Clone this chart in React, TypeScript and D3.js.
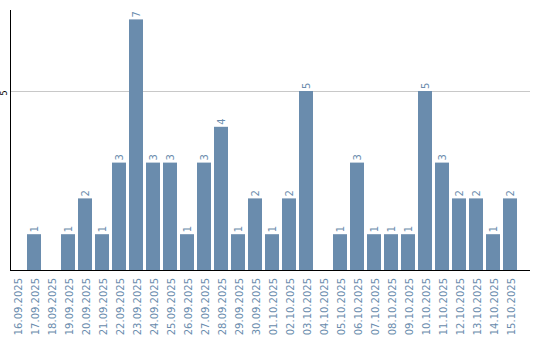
import React from "react";
import * as d3 from "d3";

const categories = [
  "16.09.2025","17.09.2025","18.09.2025","19.09.2025","20.09.2025","21.09.2025","22.09.2025","23.09.2025","24.09.2025","25.09.2025",
  "26.09.2025","27.09.2025","28.09.2025","29.09.2025","30.09.2025","01.10.2025","02.10.2025","03.10.2025","04.10.2025","05.10.2025",
  "06.10.2025","07.10.2025","08.10.2025","09.10.2025","10.10.2025","11.10.2025","12.10.2025","13.10.2025","14.10.2025","15.10.2025",
];
const values = [0,1,0,1,2,1,3,7,3,3,1,3,4,1,2,1,2,5,0,1,3,1,1,1,5,3,2,2,1,2];
const yTicks = [5];

const W = 540, H = 340;
const left = 10, right = 530, bandEnd = 517, top = 10, bottom = 270;
const color = "#6a8cad";
const font = "DejaVu Sans, sans-serif";

export default function App() {
  const x = d3.scaleBand<string>().domain(categories).range([left, bandEnd]).paddingInner(3 / 17).paddingOuter(0);
  const y = d3.scaleLinear().domain([0, 260 / 35.8]).range([bottom, top]);
  return (
    <svg width={W} height={H} style={{ position: "absolute", left: 0, top: 0 }} fontFamily={font}>
      {yTicks.map((t) => (
        <g key={t}>
          <line x1={left} x2={right} y1={Math.round(y(t)) + 0.5} y2={Math.round(y(t)) + 0.5} stroke="#c8c8c8" strokeWidth={1} />
          <text transform={`translate(7,${y(t) + 2}) rotate(-90)`} textAnchor="middle" fontSize={8} fill="#000">{t}</text>
        </g>
      ))}
      {categories.map((c, i) => {
        const v = values[i];
        const bx = x(c)!;
        const cx = bx + x.bandwidth() / 2;
        return (
          <g key={c}>
            {v > 0 && (
              <rect x={bx} y={y(v)} width={x.bandwidth()} height={bottom - y(v)} fill={color} />
            )}
            {v > 0 && (
              <text transform={`translate(${cx},${y(v) - 2}) rotate(-90)`} dy="0.35em" textAnchor="start" fontSize={10} fill={color}>{v}</text>
            )}
            <text transform={`translate(${cx + 1},278) rotate(-90)`} dy="0.35em" textAnchor="end" fontSize={10} fill={color}>{c}</text>
          </g>
        );
      })}
      <line x1={left + 0.5} x2={left + 0.5} y1={top} y2={bottom} stroke="#000" strokeWidth={1} />
      <line x1={left} x2={right} y1={bottom + 0.5} y2={bottom + 0.5} stroke="#000" strokeWidth={1} />
    </svg>
  );
}
